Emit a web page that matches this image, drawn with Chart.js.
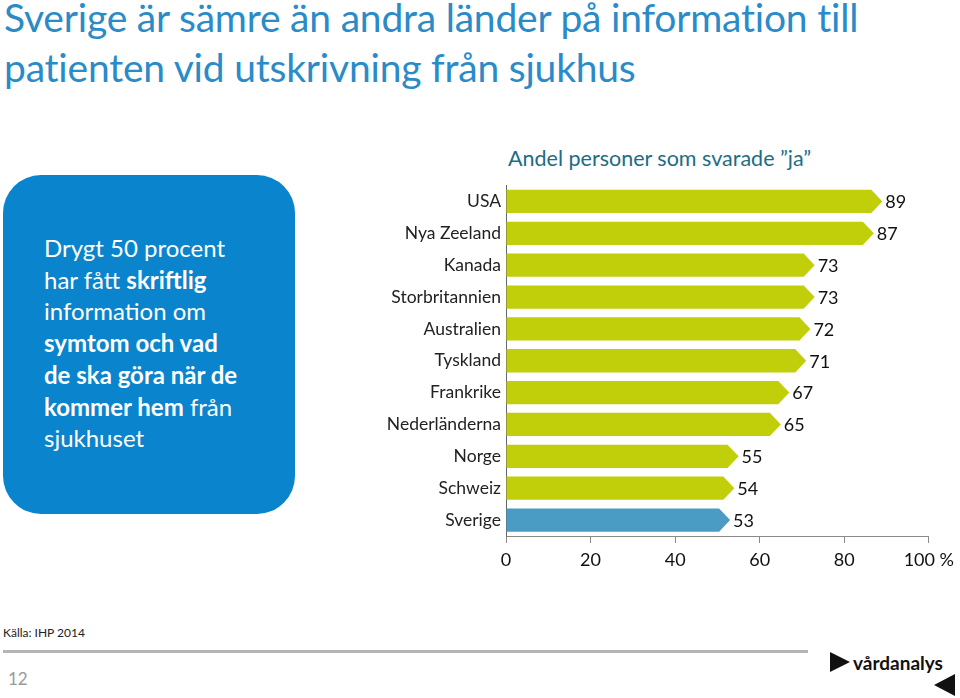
<!DOCTYPE html>
<html>
<head>
<meta charset="utf-8">
<script src="https://cdn.jsdelivr.net/npm/chart.js@4.4.1/dist/chart.umd.min.js"></script>
<style>
  body { margin: 0; width: 960px; height: 698px; background: #fff; position: relative; overflow: hidden; font-family: Lato, "Open Sans", sans-serif; }
  #title { position: absolute; left: 4px; top: -8px; font-size: 39px; line-height: 50px; color: #2a8bc8; letter-spacing: -0.2px; }
  #box { position: absolute; left: 3px; top: 175px; width: 292px; height: 339px; background: #0a84cc; border-radius: 38px; }
  #box p { position: absolute; left: 41px; top: 57px; margin: 0; color: #fff; font-size: 24px; line-height: 31.7px; }
  #sub { position: absolute; left: 508px; top: 145px; font-size: 21.5px; color: #1c6d84; }
  #wrap { position: absolute; left: 370px; top: 178px; width: 590px; height: 422px; }
  #src { position: absolute; left: 3px; top: 625px; font-size: 12px; color: #222; }
  #rule { position: absolute; left: 3px; top: 650px; width: 805px; height: 3px; background: #b5b5b5; }
  #page { position: absolute; left: 8px; top: 668px; font-size: 17px; color: #999; }
</style>
</head>
<body>
<div id="title">Sverige är sämre än andra länder på information till<br>patienten vid utskrivning från sjukhus</div>
<div id="box"><p>Drygt 50 procent<br>har fått <b>skriftlig</b><br>information om<br><b>symtom och vad</b><br><b>de ska göra när de</b><br><b>kommer hem</b> från<br>sjukhuset</p></div>
<div id="sub">Andel personer som svarade ”ja”</div>
<div id="wrap"><canvas id="chart"></canvas></div>
<div id="src">Källa: IHP 2014</div>
<div id="rule"></div>
<div id="page">12</div>
<svg style="position:absolute;left:828px;top:648px" width="132" height="50">
  <polygon points="2,4 22,14 2,24" fill="#111"/>
  <text x="25" y="22" font-family="Lato, sans-serif" font-weight="bold" font-size="19" fill="#111">vårdanalys</text>
  <polygon points="127,26 127,48 106,37" fill="#111"/>
</svg>
<script>
var countries = ["USA", "Nya Zeeland", "Kanada", "Storbritannien", "Australien", "Tyskland", "Frankrike", "Nederländerna", "Norge", "Schweiz", "Sverige"];
var yesShare = [89, 87, 73, 73, 72, 71, 67, 65, 55, 54, 53];
var xTicks = [0, 20, 40, 60, 80, 100];

var green = '#c1cf0b';
var blue = '#4a9cc4';

// draws the bars as arrows and puts the value after the tip
var arrowBars = {
  id: 'arrowBars',
  afterDatasetsDraw: function (chart) {
    var ctx = chart.ctx;
    var meta = chart.getDatasetMeta(0);
    ctx.save();
    meta.data.forEach(function (bar, i) {
      var h = bar.height / 2;
      var tip = 11;
      ctx.fillStyle = countries[i] === 'Sverige' ? blue : green;
      ctx.beginPath();
      ctx.moveTo(bar.base, bar.y - h);
      ctx.lineTo(bar.x - tip, bar.y - h);
      ctx.lineTo(bar.x, bar.y);
      ctx.lineTo(bar.x - tip, bar.y + h);
      ctx.lineTo(bar.base, bar.y + h);
      ctx.closePath();
      ctx.fill();
      ctx.fillStyle = '#111';
      ctx.font = '18px Lato, sans-serif';
      ctx.textBaseline = 'middle';
      ctx.fillText(yesShare[i], bar.x + 3, bar.y + 1);
    });
    ctx.restore();
  }
};

new Chart('chart', {
  type: 'bar',
  data: {
    labels: countries,
    datasets: [{
      data: yesShare,
      backgroundColor: 'rgba(0,0,0,0)',
      categoryPercentage: 1,
      barPercentage: 0.73
    }]
  },
  options: {
    indexAxis: 'y',
    responsive: true,
    maintainAspectRatio: false,
    animation: false,
    layout: { padding: { top: 0, right: 30 } },
    plugins: { legend: { display: false }, tooltip: { enabled: false } },
    scales: {
      x: {
        min: 0, max: 100,
        afterBuildTicks: function (s) { s.ticks = xTicks.map(function (v) { return { value: v }; }); },
        afterFit: function (s) { s.height = 64; },
        grid: { drawOnChartArea: false, tickLength: 7, color: '#8a8a8a' },
        border: { color: '#8a8a8a' },
        ticks: {
          color: '#111', padding: 6, maxRotation: 0,
          font: { family: 'Lato', size: 18 },
          callback: function (v) { return v === 100 ? '100 %' : v; }
        }
      },
      y: {
        afterFit: function (s) { s.width = 136; },
        grid: { display: false },
        border: { color: '#666' },
        ticks: { color: '#222', padding: -3, font: { family: 'Lato', size: 17.5 } }
      }
    }
  },
  plugins: [arrowBars]
});
</script>
</body>
</html>
